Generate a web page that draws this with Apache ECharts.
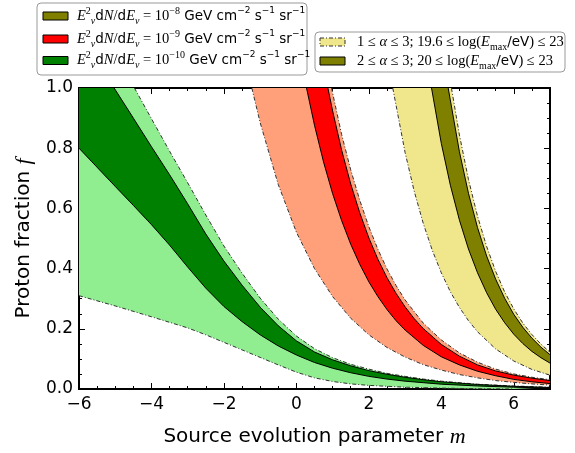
<!DOCTYPE html>
<html><head><meta charset="utf-8">
<script src="https://cdn.jsdelivr.net/npm/echarts@6/dist/echarts.min.js"></script>
<style>html,body{margin:0;padding:0;background:#fff}#c{width:575px;height:453px}</style>
</head><body><div id="c"></div>
<script>
const X_MIN = -6, X_MAX = 7, Y_MIN = 0, Y_MAX = 1;
const xMajorInterval = 2, xMinorInterval = 0.5, yMajorInterval = 0.2;

// Curves [m, f]
const greenLightLower = [[-6,0.31],[-5,0.276],[-4,0.24],[-3,0.203],[-2.5,0.18],[-2,0.155],[-1.5,0.13],[-1,0.105],[-0.5,0.08],[0,0.056],[0.5,0.037],[1,0.025],[1.5,0.017],[2,0.012],[2.5,0.009],[3,0.006],[4,0.003],[5,0.001],[6,0]];
const greenLightUpper = [[-4.47,1.0],[-4,0.898],[-3.5,0.79],[-3,0.685],[-2.5,0.578],[-2,0.475],[-1.5,0.385],[-1,0.302],[-0.5,0.232],[0,0.176],[0.5,0.134],[1,0.104],[1.5,0.082],[2,0.066],[2.5,0.052],[3,0.042],[3.5,0.033],[4,0.026],[5,0.016],[6,0.01],[7,0.006]];
const greenDarkLower = [[-6,0.8],[-5,0.673],[-4.5,0.61],[-4,0.546],[-3.5,0.478],[-3,0.405],[-2.5,0.335],[-2,0.274],[-1.5,0.224],[-1,0.18],[-0.5,0.143],[0,0.113],[0.5,0.088],[1,0.069],[1.5,0.054],[2,0.042],[2.5,0.033],[3,0.026],[3.5,0.021],[4,0.016],[5,0.01],[6,0.006],[7,0.003]];
const greenDarkUpper = [[-5.03,1.0],[-4.5,0.9],[-4,0.805],[-3.5,0.712],[-3,0.615],[-2.5,0.515],[-2,0.425],[-1.5,0.345],[-1,0.272],[-0.5,0.21],[0,0.16],[0.5,0.123],[1,0.097],[1.5,0.077],[2,0.061],[2.5,0.049],[3,0.039],[3.5,0.031],[4,0.024],[5,0.015],[6,0.009],[7,0.005]];

const salmonLower = [[-1.23,1.0],[-1,0.885],[-0.5,0.679],[0,0.521],[0.5,0.4],[1,0.307],[1.5,0.235],[2,0.18],[2.5,0.138],[3,0.106],[3.5,0.081],[4,0.063],[4.5,0.048],[5,0.037],[5.5,0.028],[6,0.022],[6.5,0.017],[7,0.013]];
const salmonUpper = [[0.97,1.0],[1.25,0.845],[1.5,0.728],[1.75,0.627],[2,0.539],[2.25,0.464],[2.5,0.399],[2.75,0.344],[3,0.296],[3.5,0.219],[4,0.163],[4.5,0.12],[5,0.089],[5.5,0.066],[6,0.05],[6.5,0.039],[7,0.031]];
const redLower = [[0.28,1.0],[0.5,0.876],[0.75,0.754],[1,0.649],[1.25,0.559],[1.5,0.481],[1.75,0.414],[2,0.356],[2.25,0.307],[2.5,0.264],[2.75,0.227],[3,0.196],[3.5,0.145],[4,0.107],[4.5,0.08],[5,0.059],[5.5,0.044],[6,0.032],[6.5,0.024],[7,0.018]];
const redUpper = [[0.87,1.0],[1,0.924],[1.25,0.793],[1.5,0.681],[1.75,0.585],[2,0.502],[2.25,0.431],[2.5,0.37],[2.75,0.318],[3,0.273],[3.25,0.234],[3.5,0.201],[4,0.148],[4.5,0.109],[5,0.08],[5.5,0.06],[6,0.046],[6.5,0.036],[7,0.028]];

const khakiLower = [[2.66,1.0],[3,0.786],[3.25,0.658],[3.5,0.551],[3.75,0.461],[4,0.386],[4.25,0.323],[4.5,0.271],[4.75,0.227],[5,0.19],[5.5,0.133],[6,0.093],[6.5,0.065],[7,0.046]];
const khakiUpper = [[4.28,1.0],[4.5,0.844],[4.75,0.696],[5,0.574],[5.25,0.474],[5.5,0.391],[5.75,0.322],[6,0.266],[6.25,0.219],[6.5,0.181],[6.75,0.149],[7,0.122]];
const oliveLower = [[3.73,1.0],[4,0.816],[4.25,0.677],[4.5,0.561],[4.75,0.465],[5,0.386],[5.25,0.32],[5.5,0.265],[5.75,0.22],[6,0.182],[6.25,0.151],[6.5,0.125],[6.75,0.104],[7,0.086]];
const oliveUpper = [[4.19,1.0],[4.5,0.788],[4.75,0.65],[5,0.536],[5.25,0.442],[5.5,0.365],[5.75,0.301],[6,0.248],[6.25,0.205],[6.5,0.169],[6.75,0.139],[7,0.114]];

const COLORS = {greenLight:'#90ee90', greenDark:'#008000', salmon:'#ffa07a', red:'#ff0000', khaki:'#f0e68c', olive:'#808000'};

function poly(lower, upper){
  const pts = lower.concat(upper.slice().reverse());
  if (lower[0][1] < Y_MAX) pts.push([X_MIN, Y_MAX]);
  return pts;
}
function band(lower, upper, color, z){
  const pts = poly(lower, upper);
  return {type:'custom', coordinateSystem:'cartesian2d', xAxisIndex:0, yAxisIndex:0, clip:true, silent:true, z:z,
    data:[[X_MIN, Y_MIN]],
    renderItem:function(params, api){
      return {type:'polygon', shape:{points: pts.map(p=>api.coord(p))}, style:{fill:color, lineWidth:0}};
    }};
}
function edge(data, dashed, z){
  return {type:'line', data:data, symbol:'none', silent:true, clip:true, z:z, xAxisIndex:0, yAxisIndex:0,
    lineStyle:{color: dashed ? '#333' : '#000', width:1, type: dashed ? [4,2,1,2] : 'solid'}};
}

const series = [
  band(greenLightLower, greenLightUpper, COLORS.greenLight, 1),
  band(salmonLower, salmonUpper, COLORS.salmon, 1),
  band(khakiLower, khakiUpper, COLORS.khaki, 1),
  band(greenDarkLower, greenDarkUpper, COLORS.greenDark, 2),
  band(redLower, redUpper, COLORS.red, 2),
  band(oliveLower, oliveUpper, COLORS.olive, 2),
  edge(greenLightLower, true, 3), edge(greenLightUpper, true, 3),
  edge(salmonLower, true, 3), edge(salmonUpper, true, 3),
  edge(khakiLower, true, 3), edge(khakiUpper, true, 3),
  edge(greenDarkLower, false, 4), edge(greenDarkUpper, false, 4),
  edge(redLower, false, 4), edge(redUpper, false, 4),
  edge(oliveLower, false, 4), edge(oliveUpper, false, 4)
];

const FONT = 'DejaVu Sans';
const axLine = {show:true, onZero:false, lineStyle:{color:'#000', width:2}};
function xAx(pos, interval, tickLen, labels){
  return {type:'value', min:X_MIN, max:X_MAX, interval:interval, position:pos,
    axisLine:axLine, splitLine:{show:false},
    axisTick:{show:true, inside:true, length:tickLen, lineStyle:{color:'#000', width:1}},
    axisLabel:{show:labels, showMaxLabel:false, color:'#000', fontSize:17, fontFamily:FONT, margin:7,
      formatter:v=>String(v).replace('-','\u2212')}};
}
function yAx(pos, labels){
  return {type:'value', min:Y_MIN, max:Y_MAX, interval:yMajorInterval, position:pos,
    axisLine:axLine, splitLine:{show:false},
    axisTick:{show:true, inside:true, length:6, lineStyle:{color:'#000', width:1}},
    minorTick:{show:true, splitNumber:4, length:3, lineStyle:{color:'#000', width:1}},
    minorSplitLine:{show:false},
    axisLabel:{show:labels, color:'#000', fontSize:17, fontFamily:FONT, margin:6, formatter:v=>v.toFixed(1)}};
}
const titleStyle = {color:'#000', fontSize:20, fontFamily:FONT,
  rich:{i:{fontFamily:'Liberation Serif', fontStyle:'italic', fontSize:22, color:'#000'}}};
const xMain = xAx('bottom', xMajorInterval, 6, true);
xMain.name = 'Source evolution parameter {i|m}';
xMain.nameLocation = 'middle';
xMain.nameGap = 37;
xMain.nameTextStyle = titleStyle;
const yMain = yAx('left', true);
yMain.name = 'Proton fraction {i|f}';
yMain.nameLocation = 'middle';
yMain.nameGap = 41;
yMain.nameTextStyle = titleStyle;

const legRich = {
  mi:{fontFamily:'Liberation Serif', fontStyle:'italic', fontSize:14.5, lineHeight:20, verticalAlign:'middle', fill:'#000'},
  r:{fontFamily:'Liberation Serif', fontSize:14.5, lineHeight:20, verticalAlign:'middle', fill:'#000'},
  s:{fontFamily:FONT, fontSize:13.5, lineHeight:20, verticalAlign:'middle', fill:'#000'},
  sup:{fontFamily:'Liberation Serif', fontSize:10, lineHeight:11, verticalAlign:'top', fill:'#000'},
  ssup:{fontFamily:FONT, fontSize:9, lineHeight:11, verticalAlign:'top', fill:'#000'},
  sub:{fontFamily:'Liberation Serif', fontStyle:'italic', fontSize:10, lineHeight:8, verticalAlign:'bottom', fill:'#000'},
  subr:{fontFamily:'Liberation Serif', fontSize:10, lineHeight:8, verticalAlign:'bottom', fill:'#000'}
};
function fluxText(exp){
  return '{mi|E}{sup|2}{sub|ν}{s|d}{mi|N}{r|/}{s|d}{mi|E}{sub|ν}{r| = 10}{sup|−' + exp + '}{s| GeV cm}{ssup|−2}{s| s}{ssup|−1}{s| sr}{ssup|−1}';
}
const legendLeftLabels = ['8','9','10'];
const legendRightLabels = [
  '{r|1 ≤ }{mi|α}{r| ≤ 3; 19.6 ≤ log(}{mi|E}{subr|max}{s|/eV}{r|) ≤ 23}',
  '{r|2 ≤ }{mi|α}{r| ≤ 3; 20 ≤ log(}{mi|E}{subr|max}{s|/eV}{r|) ≤ 23}'
];
const legendLeftColors = [COLORS.olive, COLORS.red, COLORS.greenDark];

const graphics = [
  {type:'rect', shape:{x:37, y:3, width:270, height:72, r:4}, style:{fill:'#fff', stroke:'#999', lineWidth:1}, z:100}
];
const leftRowsY = [16, 39, 60.5];
legendLeftLabels.forEach((e,i)=>{
  graphics.push({type:'rect', shape:{x:43, y:leftRowsY[i]-4, width:25, height:8}, style:{fill:legendLeftColors[i], stroke:'#000', lineWidth:1}, z:101});
  graphics.push({type:'text', x:77, y:leftRowsY[i], style:{text:fluxText(e), rich:legRich, verticalAlign:'middle', align:'left', fill:'#000'}, z:101});
});
graphics.push({type:'rect', shape:{x:315, y:32, width:250, height:40, r:4}, style:{fill:'#fff', stroke:'#999', lineWidth:1}, z:100});
const rightRowsY = [42, 61];
graphics.push({type:'rect', shape:{x:320, y:rightRowsY[0]-4, width:25, height:8}, style:{fill:COLORS.khaki, stroke:'#333', lineWidth:1, lineDash:[4,2,1,2]}, z:101});
graphics.push({type:'rect', shape:{x:320, y:rightRowsY[1]-4, width:25, height:8}, style:{fill:COLORS.olive, stroke:'#000', lineWidth:1}, z:101});
legendRightLabels.forEach((t,i)=>{
  graphics.push({type:'text', x:357, y:rightRowsY[i], style:{text:t, rich:legRich, verticalAlign:'middle', align:'left', fill:'#000'}, z:101});
});

const chart = echarts.init(document.getElementById('c'), null, {renderer:'canvas'});
chart.setOption({
  animation:false,
  backgroundColor:'#fff',
  grid:{left:79, top:88, width:471, height:311, containLabel:false},
  xAxis:[xMain, xAx('top', xMajorInterval, 6, false), xAx('bottom', xMinorInterval, 3, false), xAx('top', xMinorInterval, 3, false)],
  yAxis:[yMain, yAx('right', false)],
  series:series,
  graphic:graphics
});
</script></body></html>
